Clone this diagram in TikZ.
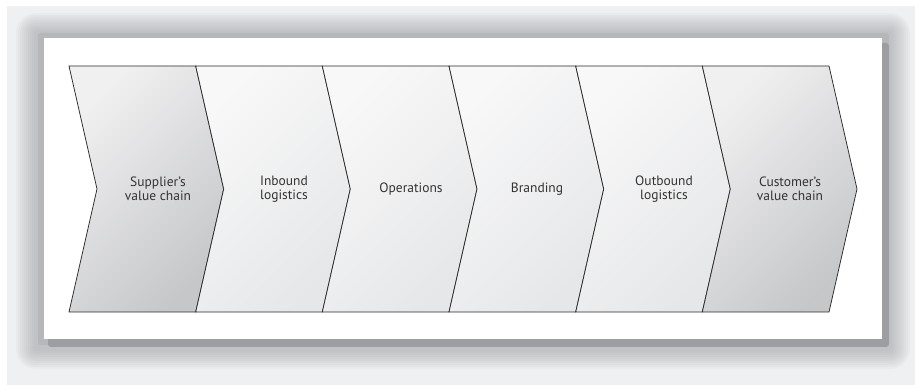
\documentclass[tikz,border=0pt]{standalone}
\usepackage{fontspec}
\setmainfont{PT Sans}
\definecolor{bgc}{HTML}{EFF0F2}
\definecolor{shc}{HTML}{9C9EA1}
\definecolor{linec}{HTML}{2A2A2A}
\definecolor{txtc}{HTML}{333333}
\definecolor{darkA}{HTML}{F0F0F1}
\definecolor{darkB}{HTML}{C6C7C9}
\definecolor{lightA}{HTML}{F8F8F9}
\definecolor{lightB}{HTML}{E6E7E8}
\tikzset{
  chev/.style={draw=linec, line width=0.75pt, line join=miter},
  darkchev/.style={chev, shading=axis, top color=darkA, bottom color=darkB, shading angle=45},
  lightchev/.style={chev, shading=axis, top color=lightA, bottom color=lightB, shading angle=45},
  lbl/.style={text=txtc, font=\fontsize{13.5}{14.5}\selectfont, align=center, inner sep=0pt}
}
\begin{document}
\begin{tikzpicture}[x=1pt,y=1pt]
\useasboundingbox (0,0) rectangle (915,385);
\fill[white] (0,0) rectangle (915,385);
\fill[bgc] (7,0) rectangle (915,379);
% shadow halo
\foreach \r in {20,18,...,2}{
  \fill[shc, opacity=0.07, rounded corners=\r] (36-\r,36-\r) rectangle (890+\r,352+\r);
}
\fill[shc!70!bgc, rounded corners=3] (38,40) rectangle (889,352);
\fill[shc, rounded corners=3] (48,38) rectangle (889,342);
% white panel
\fill[white] (44,46) rectangle (882,347);
% chevrons
\def\T{319}\def\B{73}\def\M{196}
\path[darkchev] (69,\T) -- (195.7,\T) -- (223.7,\M) -- (195.7,\B) -- (69,\B) -- (97,\M) -- cycle;
\path[lightchev] (195.7,\T) -- (322.3,\T) -- (350.3,\M) -- (322.3,\B) -- (195.7,\B) -- (223.7,\M) -- cycle;
\path[lightchev] (322.3,\T) -- (449,\T) -- (477,\M) -- (449,\B) -- (322.3,\B) -- (350.3,\M) -- cycle;
\path[lightchev] (449,\T) -- (575.7,\T) -- (603.7,\M) -- (575.7,\B) -- (449,\B) -- (477,\M) -- cycle;
\path[lightchev] (575.7,\T) -- (702.3,\T) -- (730.3,\M) -- (702.3,\B) -- (575.7,\B) -- (603.7,\M) -- cycle;
\path[darkchev] (702.3,\T) -- (829,\T) -- (857,\M) -- (829,\B) -- (702.3,\B) -- (730.3,\M) -- cycle;
% labels
\node[lbl] (sup) at (158,196) {Supplier’s\\value chain};
\node[lbl] (inb) at (284,196) {Inbound\\logistics};
\node[lbl] (ops) at (411,196) {Operations};
\node[lbl] (bra) at (537,196) {Branding};
\node[lbl] (out) at (664,196) {Outbound\\logistics};
\node[lbl] (cus) at (790,196) {Customer’s\\value chain};
\end{tikzpicture}
\end{document}
